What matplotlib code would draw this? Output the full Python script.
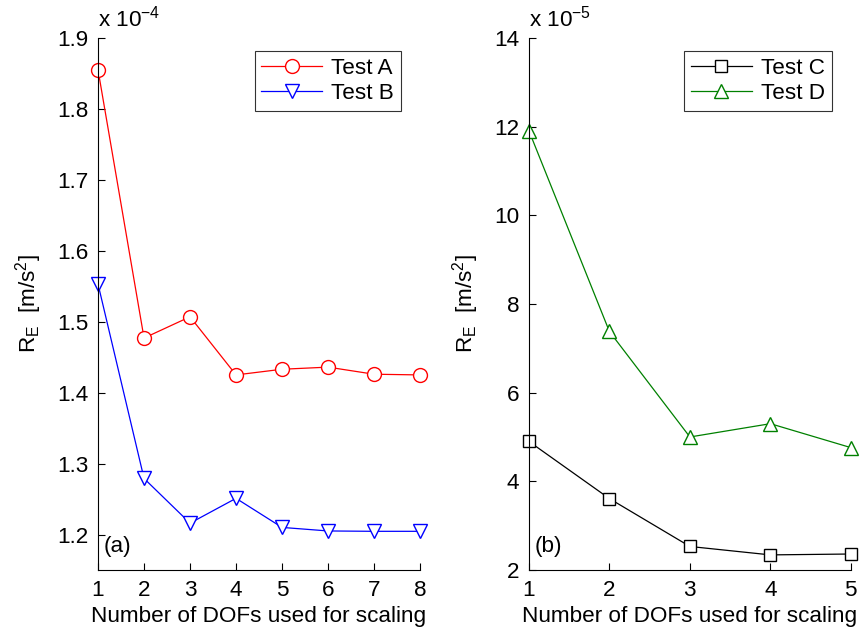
import matplotlib
matplotlib.use("Agg")
import matplotlib.pyplot as plt

plt.rcParams['font.family'] = ['Liberation Sans', 'DejaVu Sans']
plt.rcParams['mathtext.fontset'] = 'custom'
plt.rcParams['mathtext.rm'] = 'Liberation Sans'
plt.rcParams['mathtext.it'] = 'Liberation Sans'
plt.rcParams['mathtext.default'] = 'regular'

# Panel (a)
dofs_a = [1, 2, 3, 4, 5, 6, 7, 8]
test_a = [1.855, 1.477, 1.507, 1.425, 1.433, 1.436, 1.426, 1.425]
test_b = [1.553, 1.279, 1.216, 1.251, 1.210, 1.205, 1.2045, 1.2045]

# Panel (b)
dofs_b = [1, 2, 3, 4, 5]
test_c = [4.90, 3.61, 2.53, 2.34, 2.36]
test_d = [11.91, 7.38, 5.00, 5.30, 4.76]

FS = 16.2

fig = plt.figure(figsize=(8.6, 6.34), dpi=100)
ax1 = fig.add_axes([0.114, 0.101, 0.3744, 0.839])
ax2 = fig.add_axes([0.615, 0.101, 0.3744, 0.839])

def style(ax):
    for s in ['top', 'right']:
        ax.spines[s].set_visible(False)
    for s in ['left', 'bottom']:
        ax.spines[s].set_linewidth(0.8)
    ax.tick_params(direction='in', length=5, width=0.8, labelsize=FS, pad=7)

ax1.plot(dofs_a, test_a, color='red', marker='o', markersize=10, markerfacecolor='white',
         markeredgecolor='red', linewidth=0.9, label='Test A')
ax1.plot(dofs_a, test_b, color='blue', marker='v', markersize=10, markerfacecolor='white',
         markeredgecolor='blue', linewidth=0.9, label='Test B')
ax1.set_xlim(1, 8)
ax1.set_ylim(1.15, 1.9)
ax1.set_xticks(dofs_a)
ax1.set_yticks([1.2, 1.3, 1.4, 1.5, 1.6, 1.7, 1.8, 1.9])
ax1.set_yticklabels(['1.2', '1.3', '1.4', '1.5', '1.6', '1.7', '1.8', '1.9'])
style(ax1)
for l in ax1.get_lines():
    l.set_clip_on(False)
ax1.set_xlabel('Number of DOFs used for scaling', fontsize=FS, labelpad=4)
ax1.set_ylabel(r'R$_{\rm E}$  [m/s$^2$]', fontsize=FS, labelpad=9)
ax1.text(0.0, 1.012, r'x 10$^{-4}$', transform=ax1.transAxes, fontsize=FS, ha='left', va='bottom')
ax1.text(0.018, 0.025, '(a)', transform=ax1.transAxes, fontsize=FS, ha='left', va='bottom')
leg1 = ax1.legend(loc='upper right', bbox_to_anchor=(0.975, 0.997), fontsize=FS, frameon=True,
                  fancybox=False, edgecolor='black', handlelength=2.7, borderpad=0.3,
                  labelspacing=0.2, handletextpad=0.4)
leg1.get_frame().set_linewidth(0.8)

ax2.plot(dofs_b, test_c, color='black', marker='s', markersize=8, markerfacecolor='white',
         markeredgecolor='black', linewidth=0.9, label='Test C')
ax2.plot(dofs_b, test_d, color='green', marker='^', markersize=10, markerfacecolor='white',
         markeredgecolor='green', linewidth=0.9, label='Test D')
ax2.set_xlim(1, 5)
ax2.set_ylim(2, 14)
ax2.set_xticks(dofs_b)
ax2.set_yticks([2, 4, 6, 8, 10, 12, 14])
style(ax2)
for l in ax2.get_lines():
    l.set_clip_on(False)
ax2.set_xlabel('Number of DOFs used for scaling', fontsize=FS, labelpad=4)
ax2.set_ylabel(r'R$_{\rm E}$  [m/s$^2$]', fontsize=FS, labelpad=9)
ax2.text(0.0, 1.012, r'x 10$^{-5}$', transform=ax2.transAxes, fontsize=FS, ha='left', va='bottom')
ax2.text(0.018, 0.025, '(b)', transform=ax2.transAxes, fontsize=FS, ha='left', va='bottom')
leg2 = ax2.legend(loc='upper right', bbox_to_anchor=(0.975, 0.997), fontsize=FS, frameon=True,
                  fancybox=False, edgecolor='black', handlelength=2.7, borderpad=0.3,
                  labelspacing=0.2, handletextpad=0.4)
leg2.get_frame().set_linewidth(0.8)

fig.savefig('out.png', dpi=100)
